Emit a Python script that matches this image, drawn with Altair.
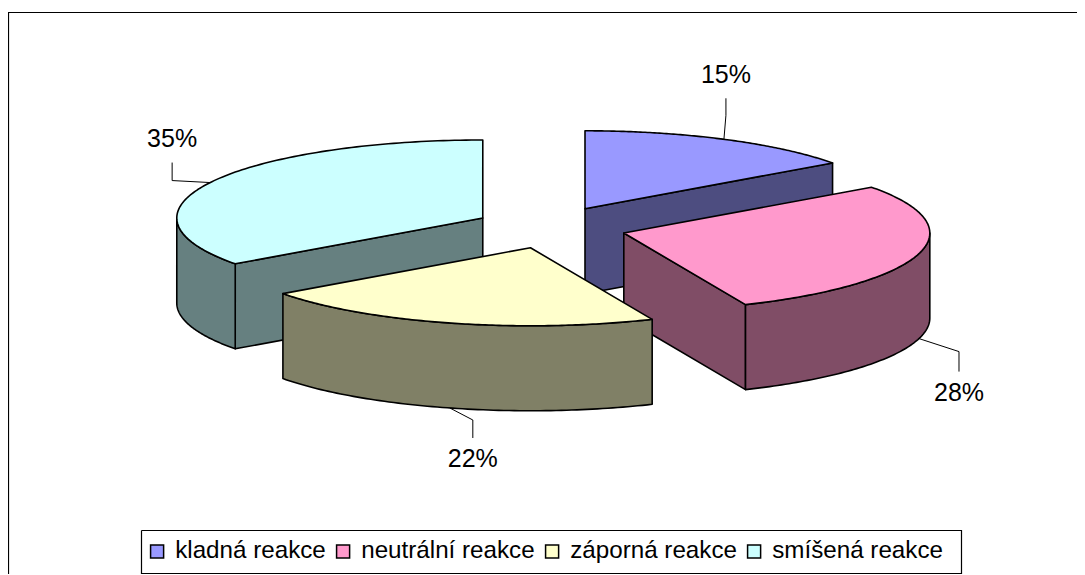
import numpy as np
import altair as alt

# Data
names = ["kladná reakce", "neutrální reakce", "záporná reakce", "smíšená reakce"]
values = [15, 28.49, 21.51, 35]
labels = ["15%", "28%", "22%", "35%"]
top_colors = ["#9999FF", "#FF99CC", "#FFFFCC", "#CCFFFF"]
side_colors = ["#4D4D80", "#804D66", "#808066", "#668080"]
draw_order = [0, 3, 1, 2]

# Projection model of the exploded 3D pie (picture pixels)
CX, CY = 550.5, 227.5
RX, RY = 306, 78
EX, EY = 76, 21
DEPTH = 85
W, H = 1069, 566
FONT = "Liberation Sans"

# leader elbow and end offsets from the rim point at each slice's mid angle
leader_offsets = [
    [(2, -24), (2, -41)],
    [(40, 13), (40, 33)],
    [(23, 12), (23, 30)],
    [(-38, -2), (-38, -20)],
]
label_gaps = [-23, 21, 21, -24]

total = sum(values)
edges = np.concatenate([[0], np.cumsum(values)]) / total * 360
rad = np.radians


def rim(apex, a, drop=0.0):
    return [float(apex[0] + RX * np.sin(rad(a))),
            float(apex[1] - RY * np.cos(rad(a)) + drop)]


def poly(face, pts):
    return {"type": "Feature", "properties": {"face": face},
            "geometry": {"type": "Polygon", "coordinates": [pts + [pts[0]]]}}


def line(pts):
    return {"type": "Feature", "properties": {},
            "geometry": {"type": "LineString", "coordinates": pts}}


features, leaders, texts = [], [], []
for i in draw_order:
    a0, a1 = float(edges[i]), float(edges[i + 1])
    mid = (a0 + a1) / 2
    apex = [CX + EX * np.sin(rad(mid)), CY - EY * np.cos(rad(mid))]
    side = names[i] + " (bok)"
    ap = [float(apex[0]), float(apex[1])]
    ap_low = [ap[0], ap[1] + DEPTH]
    if np.sin(rad(a0)) < -1e-6:
        features.append(poly(side, [ap, rim(apex, a0), rim(apex, a0, DEPTH), ap_low]))
    if np.sin(rad(a1)) > 1e-6:
        features.append(poly(side, [ap, rim(apex, a1), rim(apex, a1, DEPTH), ap_low]))
    f0, f1 = max(a0, 90.0), min(a1, 270.0)
    if f1 > f0:
        arc = np.linspace(f0, f1, 80)
        features.append(poly(side, [rim(apex, a) for a in arc] +
                             [rim(apex, a, DEPTH) for a in arc[::-1]]))
    arc = np.linspace(a0, a1, 120)
    features.append(poly(names[i], [ap] + [rim(apex, a) for a in arc]))

    front = np.cos(rad(mid)) < 0
    start = rim(apex, mid, DEPTH if front else 0.0)
    path = [start] + [[start[0] + dx, start[1] + dy] for dx, dy in leader_offsets[i]]
    leaders.append(line(path))
    texts.append({"lon": path[-1][0], "lat": path[-1][1] + label_gaps[i], "label": labels[i]})

frame = [line([[1085, 12.5], [8.5, 12.5], [8.5, 575]]),
         line([[141.5, 530.5], [961.5, 530.5], [961.5, 573.5], [141.5, 573.5], [141.5, 530.5]])]

projection = dict(type="identity", scale=1, translate=[-8, -8])

domain = names + [n + " (bok)" for n in names]
colors = top_colors + side_colors

frame_layer = alt.Chart(alt.Data(values=frame)).mark_geoshape(
    filled=False, stroke="#000000", strokeWidth=1.2).project(**projection)

leader_layer = alt.Chart(alt.Data(values=leaders)).mark_geoshape(
    filled=False, stroke="#000000", strokeWidth=1).project(**projection)

pie_layer = alt.Chart(alt.Data(values=features)).mark_geoshape(
    stroke="#000000", strokeWidth=1.6, strokeJoin="round").encode(
    color=alt.Color(
        "properties.face:N",
        scale=alt.Scale(domain=domain, range=colors),
        legend=alt.Legend(
            values=names, title=None, orient="none", legendX=137, legendY=531,
            direction="horizontal", columns=4, columnPadding=5,
            symbolType="square", symbolSize=170, symbolStrokeColor="#000000",
            symbolStrokeWidth=1.5, symbolOpacity=1, labelOffset=6,
            labelFont=FONT, labelFontSize=24.2, labelColor="#000000", labelLimit=400,
            padding=0,
        ),
    )
).project(**projection)

text_layer = alt.Chart(alt.Data(values=texts)).mark_text(
    font=FONT, fontSize=25, color="#000000", align="center", baseline="middle"
).encode(longitude="lon:Q", latitude="lat:Q", text="label:N").project(**projection)

chart = alt.layer(frame_layer, leader_layer, pie_layer, text_layer).properties(
    width=W, height=H, padding=0, background="#FFFFFF",
    autosize=alt.AutoSizeParams(type="none"),
).configure_view(stroke=None)

chart.save("out.html", embed_options={"renderer": "svg", "actions": False})
